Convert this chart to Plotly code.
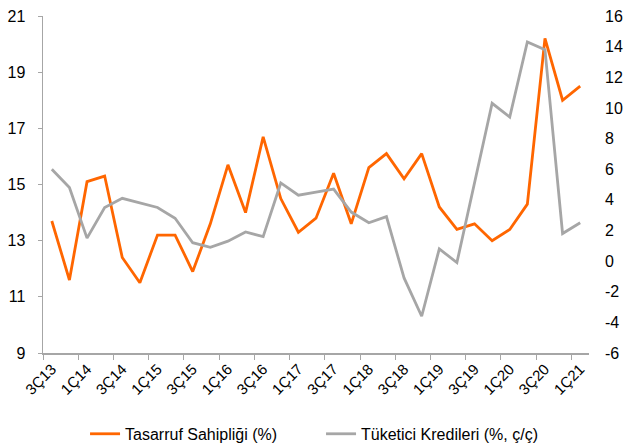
import plotly.graph_objects as go

quarters = ["3Ç13", "4Ç13", "1Ç14", "2Ç14", "3Ç14", "4Ç14", "1Ç15", "2Ç15", "3Ç15", "4Ç15",
            "1Ç16", "2Ç16", "3Ç16", "4Ç16", "1Ç17", "2Ç17", "3Ç17", "4Ç17", "1Ç18", "2Ç18",
            "3Ç18", "4Ç18", "1Ç19", "2Ç19", "3Ç19", "4Ç19", "1Ç20", "2Ç20", "3Ç20", "4Ç20", "1Ç21"]

tasarruf = [13.7, 11.6, 15.1, 15.3, 12.4, 11.5, 13.2, 13.2, 11.9, 13.6,
            15.7, 14.0, 16.7, 14.5, 13.3, 13.8, 15.4, 13.6, 15.6, 16.1,
            15.2, 16.1, 14.2, 13.4, 13.6, 13.0, 13.4, 14.3, 20.2, 18.0, 18.5]

tuketici = [6.0, 4.8, 1.5, 3.5, 4.1, 3.8, 3.5, 2.8, 1.2, 0.9,
            1.3, 1.9, 1.6, 5.1, 4.3, 4.5, 4.7, 3.2, 2.5, 2.9,
            -1.1, -3.6, 0.8, -0.1, 5.1, 10.3, 9.4, 14.3, 13.8, 1.8, 2.5]

left_ticks = [9, 11, 13, 15, 17, 19, 21]
right_ticks = [-6, -4, -2, 0, 2, 4, 6, 8, 10, 12, 14, 16]
right_tick_text = ["-6", "-4", "-2", "0", "2", "4", "6", "8", "10", "12", "14", "16"]

name1 = "Tasarruf Sahipliği (%)"
name2 = "Tüketici Kredileri (%, ç/ç)"

font_family = "Liberation Sans, Arial, sans-serif"

fig = go.Figure()
fig.add_trace(go.Scatter(x=quarters, y=tasarruf, name=name1, mode="lines",
                         line=dict(color="#FF6600", width=2.8), yaxis="y"))
fig.add_trace(go.Scatter(x=quarters, y=tuketici, name=name2, mode="lines",
                         line=dict(color="#A6A6A6", width=2.8), yaxis="y2"))

fig.update_layout(
    width=624, height=446,
    margin=dict(l=43, r=35, t=16, b=93, autoexpand=False),
    paper_bgcolor="white", plot_bgcolor="white",
    font=dict(family=font_family, size=16, color="#000000"),
    showlegend=True,
    legend=dict(orientation="h", x=0.077, xanchor="left", y=-0.24, yanchor="middle",
                font=dict(size=16), entrywidth=191, entrywidthmode="pixels",
                traceorder="normal"),
    xaxis=dict(type="category", tickangle=-45, dtick=2, tickson="boundaries",
               ticks="outside", ticklen=5, tickcolor="#A6A6A6", tickwidth=1,
               showline=True, linecolor="#A6A6A6", linewidth=1.5,
               showgrid=False, zeroline=False, range=[-0.5, 30.5],
               tickfont=dict(size=15), automargin=False),
    yaxis=dict(range=[9, 21], tickmode="array", tickvals=left_ticks,
               showgrid=False, zeroline=False,
               ticks="outside", ticklen=4, tickcolor="#A6A6A6",
               showline=True, linecolor="#A6A6A6", linewidth=1.5,
               ticklabelstandoff=9, tickfont=dict(size=16), automargin=False),
    yaxis2=dict(range=[-6, 16], tickmode="array", tickvals=right_ticks,
                ticktext=right_tick_text, overlaying="y", side="right",
                showgrid=False, zeroline=False, showline=False, ticks="",
                ticklabelstandoff=15, tickfont=dict(size=16), automargin=False),
)

fig.write_html("out.html",
               config={"displayModeBar": False, "staticPlot": True},
               post_script="document.body.style.margin='0';document.body.style.padding='0';"
                           "document.documentElement.style.overflow='hidden';")
